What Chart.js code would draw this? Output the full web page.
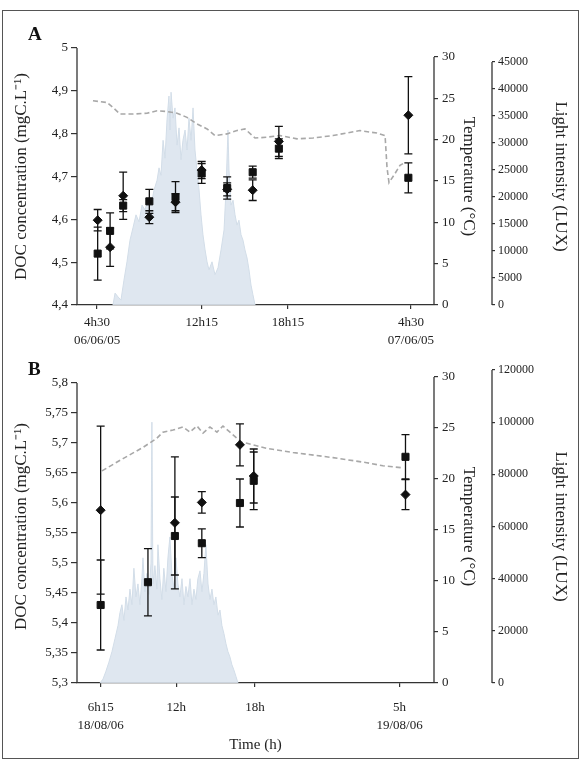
<!DOCTYPE html>
<html>
<head>
<meta charset="utf-8">
<script src="https://cdn.jsdelivr.net/npm/chart.js@4.4.0/dist/chart.umd.min.js"></script>
<style>
    body { margin: 0; background: #fff; }
    #wrap { position: relative; width: 580px; height: 760px; }
    #frame { position: absolute; left: 2px; top: 10px; width: 577px; height: 749px; box-sizing: border-box; border: 1px solid #555; }
    canvas { position: absolute; left: 0; }
    .panel { position: absolute; font: bold 19px "Liberation Serif", serif; line-height: 1; color: #111; }
</style>
</head>
<body>
<div id="wrap">
    <div id="frame"></div>
    <canvas id="chartA" width="580" height="350" style="top:0"></canvas>
    <canvas id="chartB" width="580" height="410" style="top:350px"></canvas>
    <div class="panel" style="left:28px; top:24px">A</div>
    <div class="panel" style="left:28px; top:359px">B</div>
</div>
<script>
// panel A, 06/06/05 -> 07/06/05 (time in hours from midnight of day 1)
const timeA = [4.55, 5.5, 6.5, 8.5, 10.5, 12.5, 14.45, 16.4, 18.4, 28.3];
const docDiamondA = [4.598, 4.535, 4.655, 4.605, 4.64, 4.715, 4.67, 4.668, 4.782, 4.843];
const errDiamondA = [0.025, 0.045, 0.055, 0.015, 0.02, 0.02, 0.015, 0.024, 0.035, 0.09];
const docSquareA = [4.52, 4.573, 4.632, 4.642, 4.652, 4.707, 4.673, 4.71, 4.765, 4.697];
const errSquareA = [0.062, 0.042, 0.014, 0.028, 0.036, 0.023, 0.026, 0.014, 0.023, 0.035];
const tempTimeA = [4.19, 5.26, 5.72, 6.26, 7.25, 8.32, 9.09, 9.85, 10.62, 11.38, 12.14, 12.91, 13.52, 14.44, 15.20,
    15.81, 16.58, 17.49, 18.49, 19.79, 21.01, 22.54, 24.60, 25.90, 26.52, 26.67, 26.82, 27.28, 27.66, 27.89];
const tempA = [24.7, 24.5, 23.9, 23.1, 23.1, 23.2, 23.5, 23.4, 23.2, 22.7, 21.9, 21.3, 20.5, 20.7, 21.1,
    21.3, 20.2, 20.3, 20.5, 20.1, 20.2, 20.5, 21.1, 20.8, 20.5, 16.6, 14.8, 15.9, 16.9, 17.1];
const lightTimeA = [5.72, 5.88, 6.11, 6.33, 6.56, 6.79, 7.02, 7.25, 7.48, 7.71, 7.94, 8.17, 8.40, 8.63, 8.86, 9.09,
    9.24, 9.39, 9.55, 9.70, 9.85, 10.00, 10.08, 10.16, 10.31, 10.46, 10.62, 10.77, 10.92, 11.07, 11.23, 11.38,
    11.53, 11.69, 11.84, 11.99, 12.14, 12.30, 12.45, 12.60, 12.76, 12.91, 13.06, 13.29, 13.52, 13.75, 13.98,
    14.21, 14.36, 14.51, 14.59, 14.74, 14.90, 15.05, 15.20, 15.35, 15.51, 15.66, 15.81, 15.97, 16.12, 16.27,
    16.42, 16.58];
const lightA = [0, 2200, 1500, 900, 4600, 8000, 12000, 14300, 16700, 15400, 18500, 17600, 19800, 18500, 21300, 23100,
    25400, 24000, 30500, 27200, 34300, 38700, 32400, 39400, 34600, 36500, 29600, 32800, 26900, 30500, 32400, 28700,
    34600, 30500, 36500, 28700, 25000, 21300, 16700, 13000, 10200, 8000, 6500, 8000, 5600, 6900, 10200,
    13900, 21300, 32400, 25000, 18500, 19400, 16700, 14800, 15700, 13000, 12000, 10200, 8700, 6500, 3700,
    1900, 0];
const tickPosA = [4.5, 12.5, 19.1, 28.5];
const tickLabelsA = [["4h30", "06/06/05"], ["12h15", ""], ["18h15", ""], ["4h30", "07/06/05"]];

// panel B, 18/08/06 -> 19/08/06
const timeB = [6.25, 9.85, 11.9, 13.95, 16.85, 17.9, 29.45];
const docDiamondB = [5.588, null, 5.567, 5.601, 5.697, 5.645, 5.614];
const errDiamondB = [0.14, null, 0.11, 0.018, 0.035, 0.045, 0.025];
const docSquareB = [5.43, 5.468, 5.545, 5.533, 5.6, 5.637, 5.677];
const errSquareB = [0.075, 0.056, 0.065, 0.024, 0.04, 0.048, 0.037];
const tempTimeB = [6.35, 7.95, 9.47, 10.53, 10.99, 11.75, 12.51, 13.05, 13.58, 14.04, 14.57, 15.10, 15.56,
    16.09, 16.62, 17.00, 17.39, 18.91, 20.88, 23.93, 26.51, 27.73, 29.25];
const tempB = [20.8, 22.0, 23.1, 24.0, 24.6, 24.8, 25.1, 24.6, 25.2, 24.5, 25.1, 24.6, 25.2,
    24.6, 24.0, 23.6, 23.5, 23.0, 22.6, 22.1, 21.6, 21.3, 21.1];
const lightTimeB = [6.20, 6.43, 6.65, 6.88, 7.11, 7.34, 7.57, 7.72, 7.87, 8.02, 8.18, 8.33, 8.48, 8.63, 8.78, 8.94,
    9.09, 9.24, 9.39, 9.47, 9.62, 9.77, 9.93, 10.08, 10.15, 10.23, 10.38, 10.53, 10.61, 10.76, 10.91, 11.06,
    11.22, 11.37, 11.52, 11.67, 11.83, 11.98, 12.13, 12.28, 12.44, 12.59, 12.74, 12.89, 13.05, 13.20, 13.35,
    13.50, 13.65, 13.81, 13.96, 14.11, 14.26, 14.42, 14.57, 14.72, 14.87, 15.02, 15.18, 15.33, 15.48, 15.63,
    15.79, 15.94, 16.09, 16.24, 16.39, 16.55, 16.70];
const lightB = [0, 1500, 4500, 8000, 12000, 17000, 22000, 27000, 30000, 24000, 33000, 28000, 36000, 30000, 44000, 33000,
    38000, 30000, 40000, 48000, 35000, 42000, 34000, 46000, 100000, 38000, 45000, 36000, 53000, 40000, 32000, 44000,
    35000, 48000, 56000, 42000, 36000, 48000, 38000, 33000, 40000, 30000, 37000, 33000, 40000, 30000, 36000,
    32000, 40000, 43000, 35000, 42000, 53000, 38000, 32000, 36000, 30000, 33000, 26000, 28000, 22000, 19000,
    15000, 12000, 10000, 7000, 5000, 2500, 0];
const tickPosB = [6.25, 12, 18, 29];
const tickLabelsB = [["6h15", "18/08/06"], ["12h", ""], ["18h", ""], ["5h", "19/08/06"]];

Chart.defaults.font.family = '"Liberation Serif", "Times New Roman", serif';
Chart.defaults.color = '#222';

function xy(times, values, errors) {
    let pts = [];
    for (let i = 0; i < times.length; i++) {
        if (values[i] === null) continue;
        pts.push({x: times[i], y: values[i], e: errors ? errors[i] : 0});
    }
    return pts;
}

function commaLabel(v) {
    return String(parseFloat(v.toFixed(2))).replace('.', ',');
}

// vertical error bars with caps, drawn from the DOC scale
const errorBars = {
    id: 'errorBars',
    afterDatasetsDraw(chart) {
        let ctx = chart.ctx;
        let yScale = chart.scales.y;
        ctx.save();
        ctx.strokeStyle = '#111';
        ctx.lineWidth = 1.3;
        chart.data.datasets.forEach(function (ds, i) {
            if (!ds.errorBars) return;
            let meta = chart.getDatasetMeta(i);
            meta.data.forEach(function (pt, j) {
                let d = ds.data[j];
                let top = yScale.getPixelForValue(d.y + d.e);
                let bot = yScale.getPixelForValue(d.y - d.e);
                ctx.beginPath();
                ctx.moveTo(pt.x, top);
                ctx.lineTo(pt.x, bot);
                ctx.moveTo(pt.x - 4, top);
                ctx.lineTo(pt.x + 4, top);
                ctx.moveTo(pt.x - 4, bot);
                ctx.lineTo(pt.x + 4, bot);
                ctx.stroke();
            });
        });
        ctx.restore();
    }
};

// y axis lines only between first and last tick
const axisLines = {
    id: 'axisLines',
    afterDraw(chart) {
        let ctx = chart.ctx;
        ctx.save();
        ctx.strokeStyle = '#333';
        ctx.lineWidth = 1.3;
        for (let id of ['y', 'temp', 'light']) {
            let s = chart.scales[id];
            let x = s.options.position === 'left' ? s.right : s.left;
            let t = s.ticks;
            ctx.beginPath();
            ctx.moveTo(x, s.getPixelForValue(t[0].value));
            ctx.lineTo(x, s.getPixelForValue(t[t.length - 1].value));
            ctx.stroke();
        }
        ctx.restore();
    }
};

function printPanel(elId, p) {
    let ctx = document.getElementById(elId).getContext('2d');
    let tickGrid = {display: true, drawOnChartArea: false, color: '#333', lineWidth: 1.2};
    return new Chart(ctx, {
        type: 'line',
        data: {
            datasets: [{
                label: 'DOC 1',
                data: xy(p.time, p.diamond, p.diamondErr),
                errorBars: true,
                showLine: false,
                pointStyle: 'rectRot',
                pointRadius: 4.5,
                backgroundColor: '#111',
                borderColor: '#111',
                yAxisID: 'y',
                order: 0
            }, {
                label: 'DOC 2',
                data: xy(p.time, p.square, p.squareErr),
                errorBars: true,
                showLine: false,
                pointStyle: 'rect',
                pointRadius: 5,
                backgroundColor: '#111',
                borderColor: '#111',
                yAxisID: 'y',
                order: 1
            }, {
                label: 'Temperature',
                data: xy(p.tempTime, p.temp),
                yAxisID: 'temp',
                borderColor: '#a8a8a8',
                borderDash: [5, 3],
                borderWidth: 1.6,
                pointRadius: 0,
                fill: false,
                tension: 0,
                order: 2
            }, {
                label: 'Light',
                data: xy(p.lightTime, p.light),
                yAxisID: 'light',
                borderColor: 'rgba(210,221,232,1)',
                backgroundColor: 'rgba(219,228,238,0.9)',
                borderWidth: 1,
                pointRadius: 0,
                fill: 'origin',
                tension: 0,
                order: 3
            }]
        },
        options: {
            responsive: false,
            animation: false,
            layout: {padding: {top: p.padTop, bottom: p.padBottom, left: 11, right: 9}},
            plugins: {legend: {display: false}, tooltip: {enabled: false}},
            scales: {
                x: {
                    type: 'linear',
                    min: p.xMin,
                    max: p.xMax,
                    afterBuildTicks: function (s) { s.ticks = p.tickPos.map(v => ({value: v})); },
                    afterFit: function (s) { s.height = p.xHeight; },
                    ticks: {
                        callback: (v, i) => p.tickLabels[i],
                        font: {size: 13, lineHeight: 1.35},
                        padding: p.xPad,
                        maxRotation: 0,
                        autoSkip: false
                    },
                    grid: Object.assign({tickLength: 4}, tickGrid),
                    border: {display: true, color: '#333', width: 1.3},
                    title: {display: p.xTitle !== '', text: p.xTitle, font: {size: 15}, padding: 0, color: '#222'}
                },
                y: {
                    position: 'left',
                    min: p.docMin,
                    max: p.docMax,
                    afterFit: function (s) { s.width = 66; },
                    ticks: {stepSize: p.docStep, includeBounds: false, callback: commaLabel, font: {size: 13}, padding: 3},
                    grid: Object.assign({tickLength: 6}, tickGrid),
                    border: {display: false},
                    title: {display: true, text: 'DOC concentration (mgC.L⁻¹)', font: {size: 17}, padding: 0, color: '#222'}
                },
                temp: {
                    position: 'right',
                    min: 0,
                    max: p.tempMax,
                    afterFit: function (s) { s.width = 58; },
                    ticks: {stepSize: 5, includeBounds: false, font: {size: 13}, padding: 4},
                    grid: Object.assign({tickLength: 4}, tickGrid),
                    border: {display: false},
                    title: {display: true, text: 'Temperature (°C)', font: {size: 17}, padding: {top: 13, bottom: 0}, color: '#222'}
                },
                light: {
                    position: 'right',
                    min: 0,
                    max: p.lightMax,
                    afterBuildTicks: function (s) {
                        let t = [];
                        for (let v = 0; v <= p.lightTop; v += p.lightStep) t.push({value: v});
                        s.ticks = t;
                    },
                    afterFit: function (s) { s.width = 79; },
                    ticks: {callback: v => String(v), font: {size: 12}, padding: 3},
                    grid: Object.assign({tickLength: 3}, tickGrid),
                    border: {display: false},
                    title: {display: true, text: 'Light intensity (LUX)', font: {size: 17}, padding: 0, color: '#222'}
                }
            }
        },
        plugins: [errorBars, axisLines]
    });
}

printPanel('chartA', {
    time: timeA, diamond: docDiamondA, diamondErr: errDiamondA, square: docSquareA, squareErr: errSquareA,
    tempTime: tempTimeA, temp: tempA, lightTime: lightTimeA, light: lightA,
    tickPos: tickPosA, tickLabels: tickLabelsA, xTitle: '',
    xMin: 2.97, xMax: 30.26, docMin: 4.4, docMax: 5.0, docStep: 0.1,
    tempMax: 31.09, lightMax: 47593, lightTop: 45000, lightStep: 5000,
    padTop: 48, padBottom: 5, xHeight: 40, xPad: 5
});

printPanel('chartB', {
    time: timeB, diamond: docDiamondB, diamondErr: errDiamondB, square: docSquareB, squareErr: errSquareB,
    tempTime: tempTimeB, temp: tempB, lightTime: lightTimeB, light: lightB,
    tickPos: tickPosB, tickLabels: tickLabelsB, xTitle: 'Time (h)',
    xMin: 4.45, xMax: 31.62, docMin: 5.3, docMax: 5.8217, docStep: 0.05,
    tempMax: 30.69, lightMax: 120000, lightTop: 120000, lightStep: 20000,
    padTop: 20, padBottom: 6, xHeight: 71, xPad: 12
});
</script>
</body>
</html>
